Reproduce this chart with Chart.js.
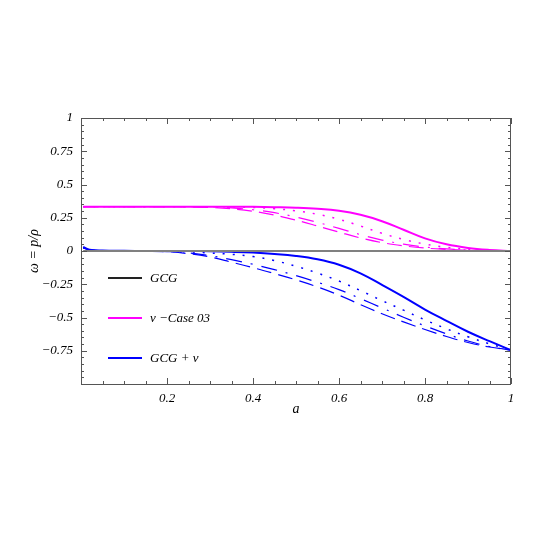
<!DOCTYPE html>
<html>
<head>
<meta charset="utf-8">
<script src="https://cdn.jsdelivr.net/npm/chart.js@4/dist/chart.umd.min.js"></script>
<style>
    body { margin: 0; background: #fff; }
    #wrap { position: relative; width: 534px; height: 534px; }
    .lg { position: absolute; font: italic 13px "Liberation Serif", serif; color: #000; transform: translateY(-50%); white-space: pre; }
    .sw { position: absolute; width: 34px; height: 2px; }
</style>
</head>
<body>
<div id="wrap">
    <canvas id="c" width="534" height="534"></canvas>
    <div class="sw" style="left:108px;top:277px;background:#222"></div>
    <div class="lg" style="left:150px;top:278px">GCG</div>
    <div class="sw" style="left:108px;top:317px;background:#ff00ff"></div>
    <div class="lg" style="left:150px;top:318px">ν −Case 03</div>
    <div class="sw" style="left:108px;top:357px;background:#0000ff"></div>
    <div class="lg" style="left:150px;top:358px">GCG + ν</div>
</div>
<script>
const aVals = [0.005, 0.02, 0.05, 0.1, 0.15, 0.2, 0.25, 0.3, 0.35, 0.4, 0.45, 0.5, 0.55, 0.6, 0.65, 0.7, 0.75, 0.8, 0.85, 0.9, 0.95, 1];

const gcg = [0, 0, 0, 0, 0, 0, 0, 0, 0, 0, 0, 0, 0, 0, 0, 0, 0, 0, 0, 0, 0, 0];

const nuSolid = [0.333, 0.333, 0.333, 0.333, 0.333, 0.333, 0.333, 0.333, 0.333, 0.332, 0.329, 0.325, 0.317, 0.302, 0.272, 0.224, 0.16, 0.095, 0.05, 0.023, 0.008, 0];
const nuDot = [0.333, 0.333, 0.333, 0.333, 0.333, 0.333, 0.333, 0.333, 0.331, 0.327, 0.318, 0.302, 0.276, 0.238, 0.188, 0.133, 0.087, 0.052, 0.028, 0.012, 0.004, 0];
const nuDashDot = [0.333, 0.333, 0.333, 0.333, 0.333, 0.333, 0.333, 0.33, 0.324, 0.31, 0.288, 0.255, 0.215, 0.17, 0.123, 0.082, 0.052, 0.03, 0.016, 0.007, 0.002, 0];
const nuDash = [0.333, 0.333, 0.333, 0.333, 0.333, 0.333, 0.332, 0.327, 0.317, 0.299, 0.27, 0.232, 0.188, 0.142, 0.098, 0.063, 0.039, 0.022, 0.012, 0.005, 0.001, 0];

const mixSolid = [0.03, 0.01, 0.003, 0.001, 0, 0, 0, -0.002, -0.006, -0.012, -0.022, -0.037, -0.062, -0.103, -0.168, -0.255, -0.345, -0.44, -0.525, -0.607, -0.678, -0.745];
const mixDot = [0.025, 0.008, 0.002, 0.001, 0, -0.002, -0.007, -0.015, -0.025, -0.042, -0.072, -0.115, -0.166, -0.226, -0.298, -0.373, -0.445, -0.518, -0.585, -0.645, -0.698, -0.745];
const mixDashDot = [0.025, 0.008, 0.002, 0, -0.001, -0.004, -0.015, -0.035, -0.065, -0.1, -0.14, -0.185, -0.235, -0.29, -0.358, -0.428, -0.498, -0.563, -0.623, -0.677, -0.718, -0.745];
const mixDash = [0.025, 0.008, 0.002, 0, -0.002, -0.006, -0.02, -0.045, -0.084, -0.125, -0.17, -0.217, -0.27, -0.332, -0.403, -0.472, -0.533, -0.59, -0.643, -0.688, -0.722, -0.745];

const xTickVals = [0.2, 0.4, 0.6, 0.8, 1];
const xTickLabels = ['0.2', '0.4', '0.6', '0.8', '1'];
const yTickVals = [-0.75, -0.5, -0.25, 0, 0.25, 0.5, 0.75, 1];
const yTickLabels = ['\u22120.75', '\u22120.5', '\u22120.25', '0', '0.25', '0.5', '0.75', '1'];

const MAG = '#ff00ff';
const BLU = '#0000ff';

function pts(ys) {
    return aVals.map((a, i) => ({ x: a, y: ys[i] }));
}

function ds(ys, color, width, dash) {
    return {
        data: pts(ys),
        borderColor: color,
        borderWidth: width,
        borderDash: dash,
        pointRadius: 0,
        tension: 0.4,
        fill: false
    };
}

// frame with inward ticks, like the original plot
const frame = {
    id: 'frame',
    afterDraw(chart) {
        const { ctx, chartArea: ca, scales } = chart;
        const xs = scales.x, ys = scales.y;
        ctx.save();
        ctx.strokeStyle = '#555';
        ctx.lineWidth = 1;
        ctx.strokeRect(ca.left + 0.5, ca.top + 0.5, ca.right - ca.left - 1, ca.bottom - ca.top);
        ctx.beginPath();
        for (let i = 0; i <= 20; i++) {
            const px = Math.round(xs.getPixelForValue(i * 0.05)) + 0.5;
            const len = i % 4 === 0 ? 6 : 3;
            ctx.moveTo(px, ca.bottom); ctx.lineTo(px, ca.bottom - len);
            ctx.moveTo(px, ca.top); ctx.lineTo(px, ca.top + len);
        }
        for (let i = 0; i <= 40; i++) {
            const v = -1 + i * 0.05;
            const py = Math.round(ys.getPixelForValue(v)) + 0.5;
            const len = i % 5 === 0 ? 6 : 3;
            ctx.moveTo(ca.left, py); ctx.lineTo(ca.left + len, py);
            ctx.moveTo(ca.right, py); ctx.lineTo(ca.right - len, py);
        }
        ctx.stroke();
        ctx.restore();
    }
};

const ctx = document.getElementById('c').getContext('2d');
new Chart(ctx, {
    type: 'line',
    data: {
        datasets: [
            ds(gcg, '#808080', 2, []),
            ds(nuDash, MAG, 1.2, [15, 7]),
            ds(nuDashDot, MAG, 1.2, [16, 9, 2, 9]),
            ds(nuDot, MAG, 1.5, [2, 8]),
            ds(nuSolid, MAG, 2, []),
            ds(mixDash, BLU, 1.2, [15, 7]),
            ds(mixDashDot, BLU, 1.2, [16, 9, 2, 9]),
            ds(mixDot, BLU, 1.5, [2, 8]),
            ds(mixSolid, BLU, 2, [])
        ]
    },
    options: {
        responsive: false,
        animation: false,
        layout: { padding: { top: 118, right: 23, bottom: 114, left: 0 } },
        plugins: { legend: { display: false }, tooltip: { enabled: false } },
        scales: {
            x: {
                type: 'linear',
                min: 0,
                max: 1,
                afterFit: s => { s.height = 36; },
                afterBuildTicks: s => { s.ticks = xTickVals.map(v => ({ value: v })); },
                grid: { display: false, drawTicks: false },
                border: { display: false },
                ticks: {
                    autoSkip: false,
                    maxRotation: 0,
                    padding: 7,
                    color: '#000',
                    font: { family: '"Liberation Serif", serif', style: 'italic', size: 13 },
                    callback: v => xTickLabels[xTickVals.indexOf(v)]
                },
                title: {
                    display: true,
                    text: 'a',
                    color: '#000',
                    padding: { top: 0, bottom: 2 },
                    font: { family: '"Liberation Serif", serif', style: 'italic', size: 14 }
                }
            },
            y: {
                min: -1,
                max: 1,
                afterFit: s => { s.width = 81; },
                afterBuildTicks: s => { s.ticks = yTickVals.map(v => ({ value: v })); },
                grid: { display: false, drawTicks: false },
                border: { display: false },
                ticks: {
                    autoSkip: false,
                    padding: 8,
                    color: '#000',
                    font: { family: '"Liberation Serif", serif', style: 'italic', size: 13 },
                    callback: v => yTickLabels[yTickVals.indexOf(v)]
                },
                title: {
                    display: true,
                    text: 'ω = p/ρ',
                    color: '#000',
                    padding: { top: 26, bottom: 0 },
                    font: { family: '"Liberation Serif", serif', style: 'italic', size: 14 }
                }
            }
        }
    },
    plugins: [frame]
});
</script>
</body>
</html>
